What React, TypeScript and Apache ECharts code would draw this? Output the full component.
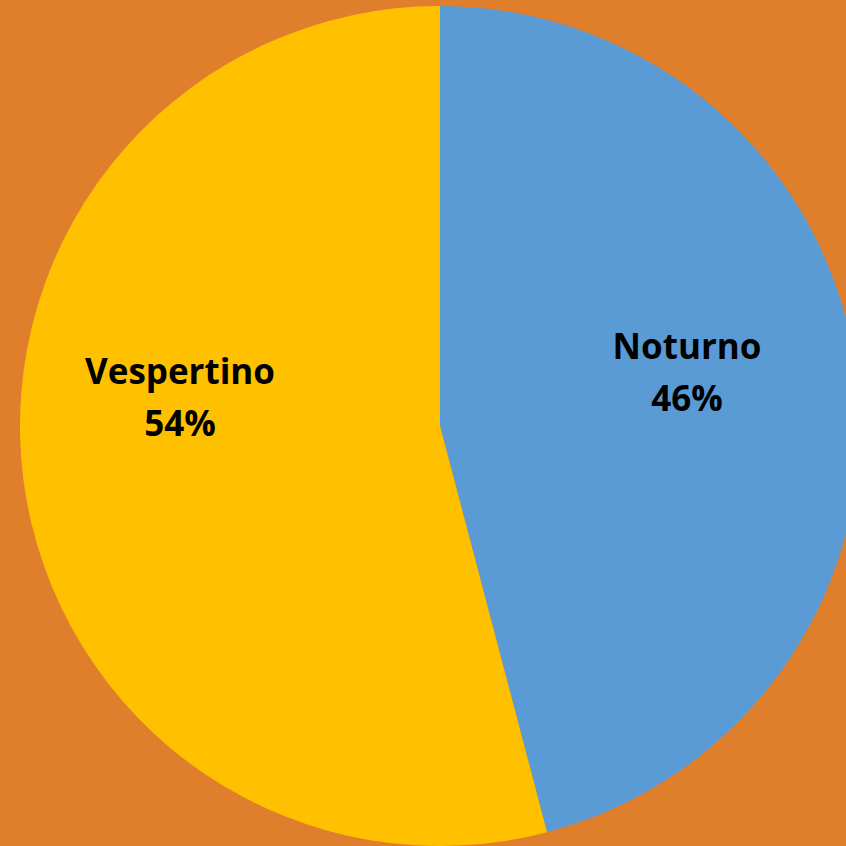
import React, { useEffect, useRef } from "react";
import * as echarts from "echarts";

const categories = ["Noturno", "Vespertino"];
const values = [45.9, 54.1];
const colors = ["#5B9BD5", "#FFC000"];
const labelCenters = [
  [687, 371],
  [180, 396],
];

export default function App() {
  const ref = useRef<HTMLDivElement>(null);
  useEffect(() => {
    if (!ref.current) return;
    const chart = echarts.init(ref.current, undefined, { renderer: "svg" });
    chart.setOption({
      animation: false,
      backgroundColor: "#E07F2B",
      series: [
        {
          type: "pie",
          center: [440, 426],
          radius: [0, 420],
          startAngle: 90,
          clockwise: true,
          percentPrecision: 0,
          itemStyle: { borderWidth: 0 },
          label: {
            show: true,
            position: "inside",
            formatter: "{b}\n{d}%",
            color: "#000000",
            fontFamily: "Open Sans",
            fontWeight: "bold",
            fontSize: 35,
            lineHeight: 52,
            align: "center",
          },
          labelLine: { show: false },
          labelLayout: (params: any) => ({
            x: labelCenters[params.dataIndex][0],
            y: labelCenters[params.dataIndex][1],
            align: "center",
            verticalAlign: "middle",
          }),
          data: categories.map((name, i) => ({
            name,
            value: values[i],
            itemStyle: { color: colors[i] },
          })),
        },
      ],
    });
    return () => chart.dispose();
  }, []);
  return (
    <div
      ref={ref}
      style={{ position: "fixed", left: 0, top: 0, width: 846, height: 846 }}
    />
  );
}
